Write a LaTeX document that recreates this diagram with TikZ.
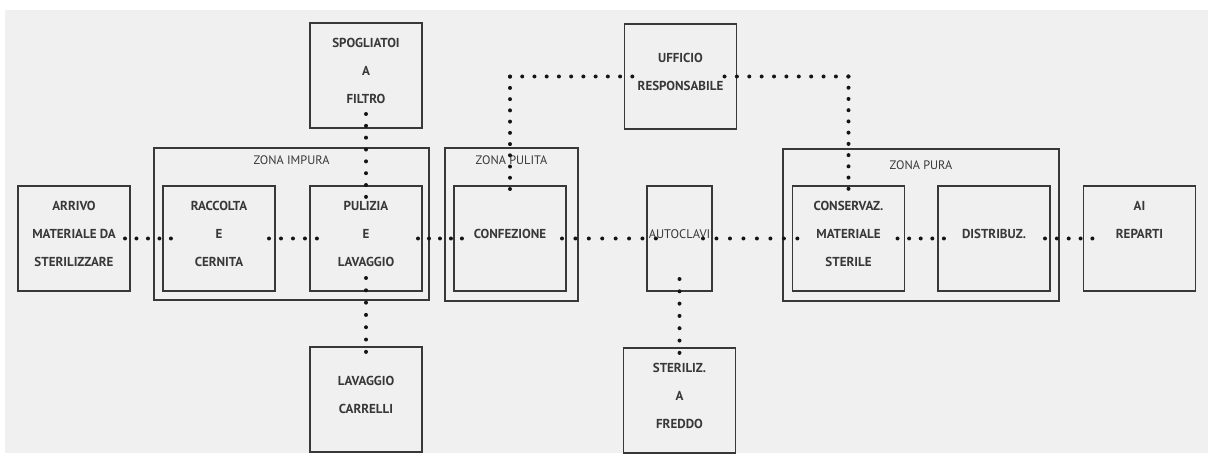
\documentclass[tikz,border=0pt]{standalone}
\usepackage{fontspec}
\setmainfont{PT Sans}
\usepackage{xcolor}
\definecolor{bgcol}{HTML}{F0F0F0}
\definecolor{boxline}{HTML}{383838}
\definecolor{dotcol}{HTML}{151515}

\begin{document}
\begin{tikzpicture}[x=1pt,y=-1pt,
  box/.style={draw=boxline,line width=1.1pt,minimum width=112pt,minimum height=105pt,
    inner sep=0pt,outer sep=0pt,align=center,text=boxline,font=\bfseries\fontsize{13}{28}\selectfont,
    execute at end node={\rule[-9pt]{0pt}{9pt}}},
  zone/.style={draw=boxline,line width=1.1pt,inner sep=0pt},
  zonelabel/.style={text=boxline,font=\fontsize{12.3}{14}\selectfont,inner sep=0pt},
  flow/.style={draw=dotcol,line width=4pt,line cap=round,dash pattern=on 0pt off #1},
  flow/.default=12pt]
  \useasboundingbox (0,0) rectangle (1209,454);
  \fill[bgcol] (5,10) rectangle (1208,453);

  % zones
  \node[zone,minimum width=275pt,minimum height=152pt] (impura) at (291.5,224) {};
  \node[zone,minimum width=133pt,minimum height=153pt] (pulita) at (511.5,224.5) {};
  \node[zone,minimum width=276pt,minimum height=152pt] (pura) at (921,225) {};
  \node[zonelabel] (impuralbl) at (291.5,160) {ZONA IMPURA};
  \node[zonelabel] (pulitalbl) at (511.5,160) {ZONA PULITA};
  \node[zonelabel] (puralbl) at (921,165) {ZONA PURA};

  % rooms
  \node[box] (arrivo) at (74,238.5) {ARRIVO\\MATERIALE DA\\STERILIZZARE};
  \node[box] (raccolta) at (219,238.5) {RACCOLTA\\E\\CERNITA};
  \node[box] (pulizia) at (366,238.5) {PULIZIA\\E\\LAVAGGIO};
  \node[box] (spogliatoi) at (366,75.5) {SPOGLIATOI\\A\\FILTRO};
  \node[box] (carrelli) at (366,399.5) {LAVAGGIO\\CARRELLI};
  \node[box] (confezione) at (510,238.5) {CONFEZIONE};
  \node[box] (ufficio) at (680.5,76.5) {UFFICIO\\RESPONSABILE};
  \node[box,minimum width=65pt,font=\fontsize{12.5}{28}\selectfont] (autoclavi) at (679.5,238.5) {AUTOCLAVI};
  \node[box] (steriliz) at (679.5,400.5) {STERILIZ.\\A\\FREDDO};
  \node[box] (conservaz) at (848.5,238.5) {CONSERVAZ.\\MATERIALE\\STERILE};
  \node[box] (distribuz) at (994,238.5) {DISTRIBUZ.};
  \node[box] (reparti) at (1139.5,238.5) {AI\\REPARTI\\\mbox{}};
  \coordinate (bendwest) at (confezione.north |- ufficio.west);
  \coordinate (bendeast) at (conservaz.north |- ufficio.east);

  % percorsi
  \draw[flow=11.48pt,shorten <=-5pt,shorten >=-8pt] (arrivo.east) -- (raccolta.west);
  \draw[flow=11.98pt,shorten <=-6pt,shorten >=-7pt] (raccolta.east) -- (pulizia.west);
  \draw[flow=10.98pt,shorten <=-4pt,shorten >=-8pt] (pulizia.east) -- (confezione.west);
  \draw[flow=13.41pt,shorten <=-4pt,shorten >=-9pt] (confezione.east) -- (autoclavi.west);
  \draw[flow=13.48pt,shorten <=-9pt,shorten >=-5pt] (autoclavi.east) -- (conservaz.west);
  \draw[flow=11.6pt,shorten <=-7pt,shorten >=-6pt] (conservaz.east) -- (distribuz.west);
  \draw[flow=11.85pt,shorten <=-5pt,shorten >=-9pt] (distribuz.east) -- (reparti.west);
  \draw[flow=11.84pt,shorten <=-14pt,shorten >=-11pt] (spogliatoi.south) -- (pulizia.north);
  \draw[flow=12.31pt,shorten <=-13pt,shorten >=-5pt] (pulizia.south) -- (carrelli.north);
  \draw[flow=12.31pt,shorten <=-12pt,shorten >=-5pt] (autoclavi.south) -- (steriliz.north);
  \draw[flow=11.23pt,shorten <=-3pt] (confezione.north) -- (bendwest);
  \draw[flow=12.23pt,shorten >=-8pt] (bendwest) -- (ufficio.west);
  \draw[flow=12.38pt,shorten <=-12pt] (ufficio.east) -- (bendeast);
  \draw[flow=11.23pt,shorten >=-3pt] (bendeast) -- (conservaz.north);
\end{tikzpicture}
\end{document}
